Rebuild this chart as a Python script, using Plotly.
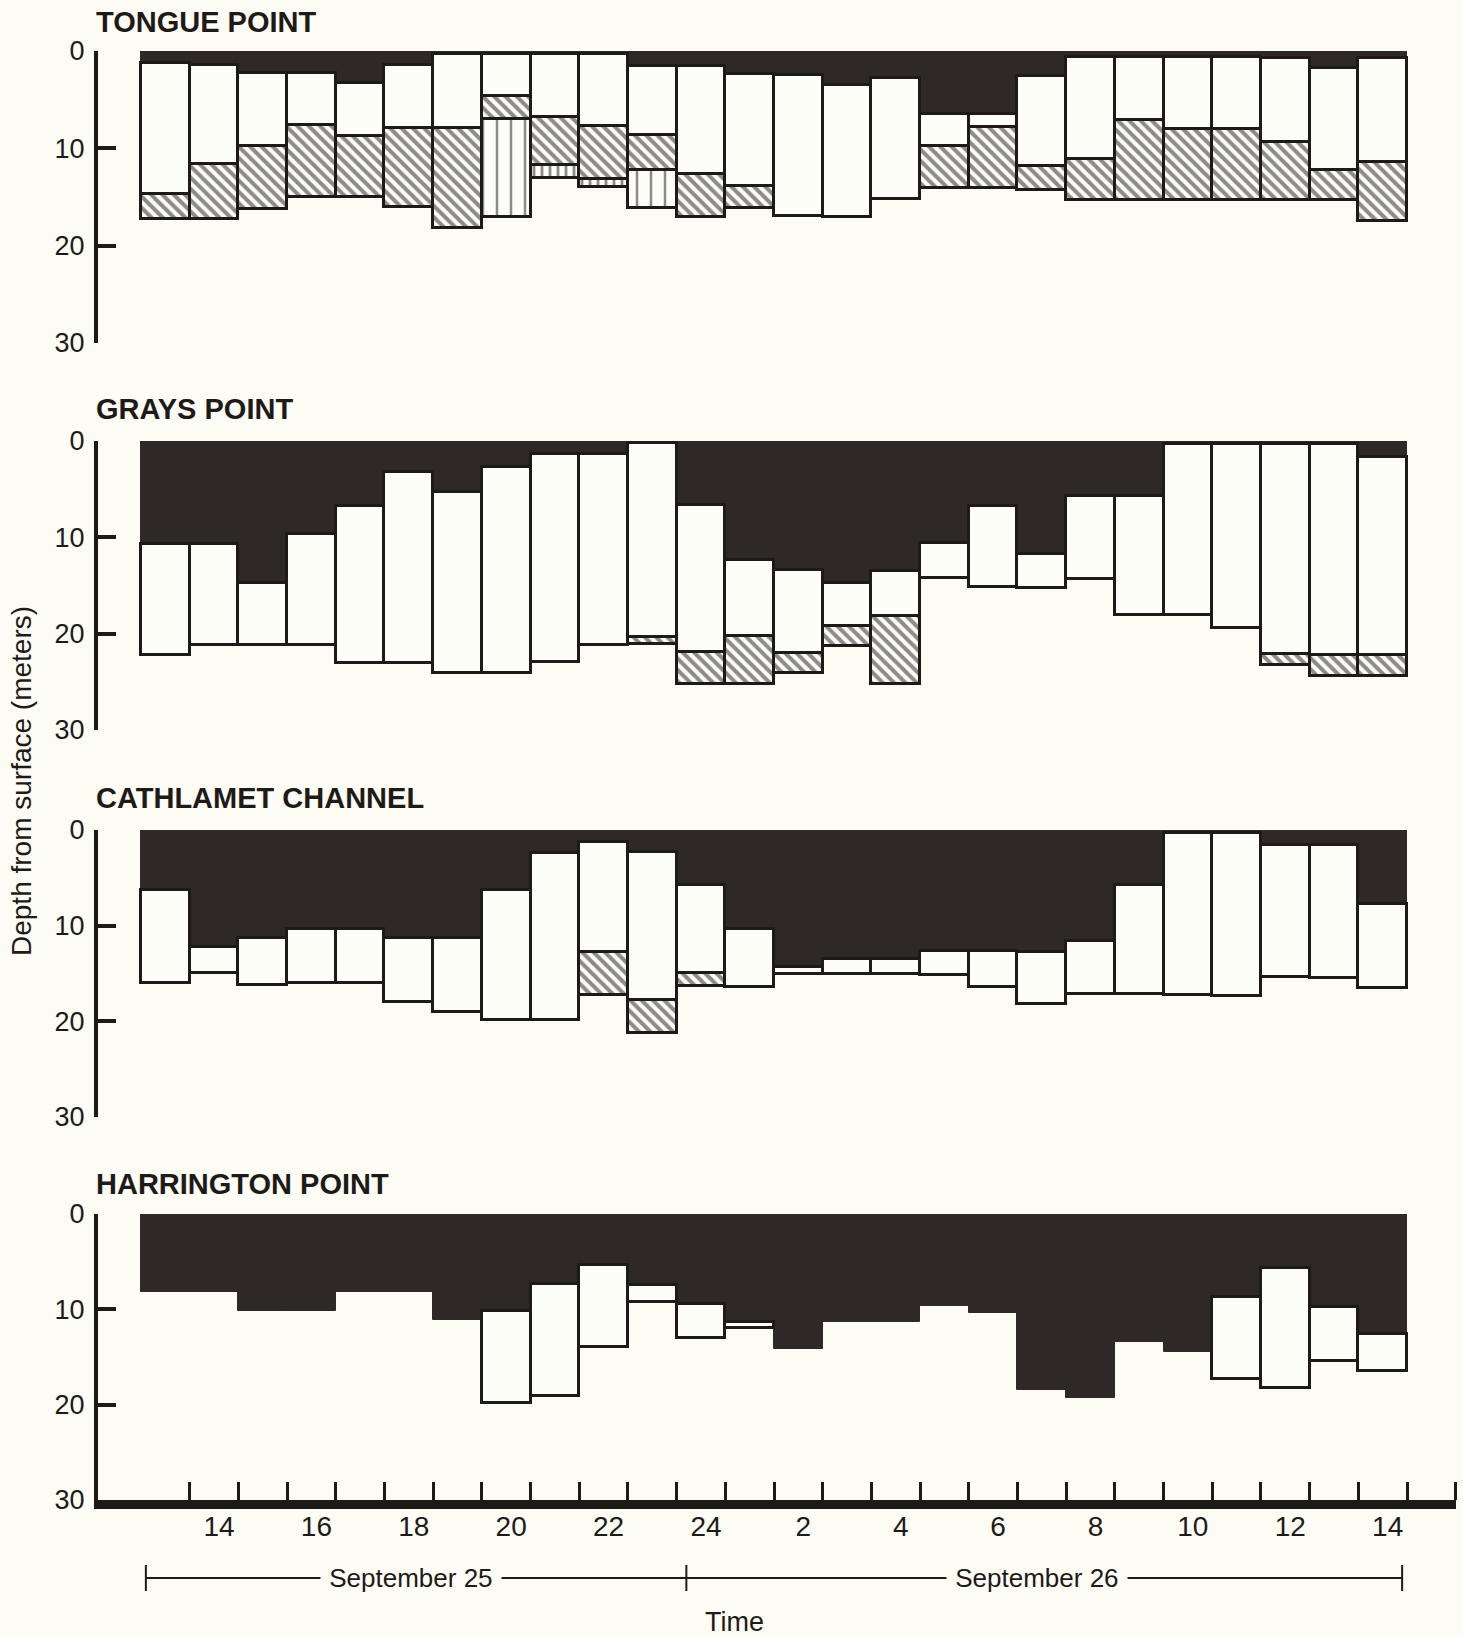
import plotly.graph_objects as go

# ---------------------------------------------------------------------------
# Hourly soundings, 13h on September 25 to 14h on September 26
# ---------------------------------------------------------------------------
HOURS = [13, 14, 15, 16, 17, 18, 19, 20, 21, 22, 23, 24,
         1, 2, 3, 4, 5, 6, 7, 8, 9, 10, 11, 12, 13, 14]
DAY_LABELS = ["September 25", "September 26"]
X_TICK_LABELS = ["14", "16", "18", "20", "22", "24",
                 "2", "4", "6", "8", "10", "12", "14"]
Y_TICKS = [0, 10, 20, 30]

STATIONS = ["TONGUE POINT", "GRAYS POINT", "CATHLAMET CHANNEL", "HARRINGTON POINT"]

# Depth (m) at the bottom of each layer; None where the layer is absent.
# Tongue Point
tongue_dark = [1.2, 1.4, 2.3, 2.3, 3.3, 1.4, 0.3, 0.3, 0.3, 0.3, 1.5, 1.5,
               2.4, 2.5, 3.5, 2.8, 6.5, 6.5, 2.6, 0.6, 0.6, 0.6, 0.6, 0.7, 1.7, 0.7]
tongue_open = [14.7, 11.6, 9.8, 7.6, 8.7, 7.9, 7.9, 4.6, 6.8, 7.7, 8.6, 12.6,
               13.9, 17.0, 17.1, 15.2, 9.8, 7.8, 11.8, 11.1, 7.1, 8.0, 8.0, 9.3, 12.2, 11.4]
tongue_hatched = [17.3, 17.3, 16.2, 15.0, 15.0, 16.0, 18.2, 7.0, 11.7, 13.2, 12.2, 17.1,
                  16.1, None, None, None, 14.1, 14.1, 14.3, 15.3, 15.3, 15.3, 15.3, 15.3, 15.3, 17.5]
tongue_ruled = [None] * 7 + [17.1, None, None, 16.1] + [None] * 15
tongue_banded = [None] * 8 + [13.0, 14.0] + [None] * 16

# Grays Point
grays_dark = [10.7, 10.7, 14.7, 9.7, 6.7, 3.2, 5.3, 2.7, 1.4, 1.4, 0.2, 6.6,
              12.4, 13.4, 14.7, 13.5, 10.6, 6.7, 11.7, 5.7, 5.7, 0.3, 0.3, 0.3, 0.3, 1.7]
grays_open = [22.2, 21.2, 21.2, 21.2, 23.0, 23.0, 24.1, 24.1, 22.9, 21.2, 20.3, 21.9,
              20.2, 22.0, 19.2, 18.2, 14.2, 15.2, 15.3, 14.3, 18.1, 18.1, 19.4, 22.1, 22.2, 22.2]
grays_hatched = [None] * 10 + [21.1, 25.2, 25.2, 24.1, 21.3, 25.2] + [None] * 7 + [23.3, 24.4, 24.4]

# Cathlamet Channel
cathlamet_dark = [6.3, 12.2, 11.3, 10.3, 10.3, 11.3, 11.3, 6.3, 2.4, 1.3, 2.3, 5.8,
                  10.4, 14.3, 13.5, 13.5, 12.6, 12.6, 12.7, 11.6, 5.7, 0.3, 0.3, 1.6, 1.6, 7.7]
cathlamet_open = [16.0, 14.9, 16.2, 16.0, 16.0, 18.0, 19.0, 19.9, 19.9, 12.8, 17.8, 14.9,
                  16.4, 15.1, 15.1, 15.1, 15.2, 16.4, 18.2, 17.1, 17.1, 17.2, 17.3, 15.4, 15.5, 16.5]
cathlamet_hatched = [None] * 9 + [17.2, 21.2, 16.3] + [None] * 14

# Harrington Point
harrington_dark = [8.2, 8.2, 10.2, 10.2, 8.2, 8.2, 11.1, 10.2, 7.3, 5.4, 7.4, 9.4,
                   11.3, 14.2, 11.3, 11.3, 9.6, 10.4, 18.5, 19.3, 13.4, 14.5, 8.7, 5.7, 9.8, 12.6]
harrington_open = [None] * 7 + [19.8, 19.1, 13.9, 9.2, 13.0, 12.0] + [None] * 9 + [17.3, 18.3, 15.4, 16.5]
harrington_hatched = [None] * 26

# Day brackets under the time axis (start, split, end) and label centres,
# all on the sequential hour scale
DAY_BRACKET = [12.6, 23.7, 38.4]
DAY_LABEL_POS = [18.05, 30.9]

# ---------------------------------------------------------------------------
W, H = 1463, 1636
PAPER = "#fcfbf4"
BOX = "#fdfdf7"
INK = "#1e1a18"
DARK = "#2e2927"
FONT = "Liberation Sans"

# sequential hour positions along the time axis
XPOS = [13 + i for i in range(len(HOURS))]
TICK_POS = [14 + 2 * i for i in range(len(X_TICK_LABELS))]
HOUR_EDGES = [x + 0.5 for x in XPOS] + [XPOS[-1] + 1.5]

# plot geometry in pixels
PLOT_LEFT, PLOT_RIGHT = 98, 1456
EDGE_LEFT_PX, EDGE_RIGHT_PX = 141, 1407
PX_PER_HOUR = (EDGE_RIGHT_PX - EDGE_LEFT_PX) / len(HOURS)
X_RANGE = [XPOS[0] - 0.5 - (EDGE_LEFT_PX - PLOT_LEFT) / PX_PER_HOUR,
           XPOS[-1] + 0.5 + (PLOT_RIGHT - EDGE_RIGHT_PX) / PX_PER_HOUR]
PANELS_PX = [(51, 343), (441, 730), (830, 1117), (1214, 1500)]
TITLE_Y_PX = [22, 409, 798, 1184]

HATCH = dict(shape="\\", fgcolor=INK, bgcolor=BOX, size=8, solidity=0.5,
             fillmode="overlay")

station_layers = [
    (tongue_dark, tongue_open, tongue_hatched, [("|", 14, 0.18, tongue_ruled),
                                                ("|", 8, 0.35, tongue_banded)]),
    (grays_dark, grays_open, grays_hatched, []),
    (cathlamet_dark, cathlamet_open, cathlamet_hatched, []),
    (harrington_dark, harrington_open, harrington_hatched, []),
]

fig = go.Figure()


def add_layer(ax, tops, bottoms, fill, line_color, line_width, pattern=None):
    xs, bases, heights = [], [], []
    for x, t, b in zip(XPOS, tops, bottoms):
        if t is None or b is None or b <= t:
            continue
        xs.append(x)
        bases.append(t)
        heights.append(b - t)
    if not xs:
        return
    marker = dict(color=fill, line=dict(color=line_color, width=line_width))
    if pattern is not None:
        marker["pattern"] = pattern
    fig.add_trace(go.Bar(
        x=xs, y=heights, base=bases, width=1, marker=marker,
        xaxis="x" + ax, yaxis="y" + ax, showlegend=False, hoverinfo="skip",
    ))


for i, (dark, open_, hatched, extras) in enumerate(station_layers):
    ax = "" if i == 0 else str(i + 1)
    zeros = [0] * len(dark)
    # dark surface layer
    add_layer(ax, zeros, dark, DARK, DARK, 1)
    # open layer below it
    add_layer(ax, dark, open_, BOX, INK, 3)
    # diagonally hatched layer
    add_layer(ax, open_, hatched, BOX, INK, 3, HATCH)
    # ruled layers beneath the hatched one
    for shape, size, solidity, bottoms in extras:
        add_layer(ax, hatched, bottoms, BOX, INK, 3,
                  dict(shape=shape, fgcolor=INK, bgcolor=BOX, size=size,
                       solidity=solidity, fillmode="overlay"))

layout = dict(
    width=W, height=H,
    paper_bgcolor=PAPER, plot_bgcolor=PAPER,
    margin=dict(l=0, r=0, t=0, b=0, autoexpand=False),
    barmode="overlay", bargap=0,
    showlegend=False,
    font=dict(family=FONT, color=INK),
)

xdom = [PLOT_LEFT / W, PLOT_RIGHT / W]
annotations = []
for i, (top_px, bot_px) in enumerate(PANELS_PX):
    ax = "" if i == 0 else str(i + 1)
    ydom = [1 - bot_px / H, 1 - top_px / H]
    layout["yaxis" + ax] = dict(
        domain=ydom, range=[30, 0], anchor="x" + ax, automargin=False,
        tickmode="array", tickvals=Y_TICKS, ticktext=[str(v) for v in Y_TICKS],
        ticks="inside", ticklen=18, tickwidth=4, tickcolor=INK,
        showline=True, linewidth=4, linecolor=INK,
        showgrid=False, zeroline=False, fixedrange=True,
        tickfont=dict(family=FONT, size=27, color=INK),
        ticklabelstandoff=4,
    )
    xa = dict(domain=xdom, range=X_RANGE, anchor="y" + ax, automargin=False,
              showgrid=False, zeroline=False, fixedrange=True)
    if i < 3:
        xa.update(showline=False, showticklabels=False, ticks="")
    else:
        xa.update(
            showline=True, linewidth=9, linecolor=INK,
            tickmode="array", tickvals=TICK_POS, ticktext=X_TICK_LABELS,
            ticks="",
            tickfont=dict(family=FONT, size=28, color=INK),
            ticklabelstandoff=-7, ticklabelshift=5,
            minor=dict(tickmode="array", tickvals=HOUR_EDGES,
                       ticks="inside", ticklen=18, tickwidth=3, tickcolor=INK,
                       showgrid=False),
        )
    layout["xaxis" + ax] = xa
    annotations.append(dict(
        text=STATIONS[i], xref="paper", yref="paper",
        x=94 / W, y=1 - TITLE_Y_PX[i] / H, xanchor="left", yanchor="middle",
        showarrow=False,
        font=dict(family=FONT, size=29, color=INK, weight="bold"),
    ))

# axis titles
annotations.append(dict(
    text="Depth from surface (meters)", xref="paper", yref="paper",
    x=21 / W, y=1 - 781 / H, textangle=-90, showarrow=False,
    xanchor="center", yanchor="middle",
    font=dict(family=FONT, size=28, color=INK),
))
annotations.append(dict(
    text="Time", xref="paper", yref="paper",
    x=734 / W, y=1 - 1622 / H, showarrow=False,
    xanchor="center", yanchor="middle",
    font=dict(family=FONT, size=27, color=INK),
))

# day brackets beneath the time axis
bracket_y = 1 - 1578 / H
cap = 13 / H
shapes = [dict(type="line", xref="x4", yref="paper",
               x0=DAY_BRACKET[0], x1=DAY_BRACKET[-1], y0=bracket_y, y1=bracket_y,
               line=dict(color=INK, width=2))]
for xb in DAY_BRACKET:
    shapes.append(dict(type="line", xref="x4", yref="paper",
                       x0=xb, x1=xb, y0=bracket_y - cap, y1=bracket_y + cap,
                       line=dict(color=INK, width=2)))
for label, xc in zip(DAY_LABELS, DAY_LABEL_POS):
    annotations.append(dict(
        text=" " + label + " ", xref="x4", yref="paper",
        x=xc, y=bracket_y,
        showarrow=False, xanchor="center", yanchor="middle",
        bgcolor=PAPER,
        font=dict(family=FONT, size=26, color=INK),
    ))

layout["annotations"] = annotations
layout["shapes"] = shapes
fig.update_layout(**layout)

fig.write_html("out.html")
